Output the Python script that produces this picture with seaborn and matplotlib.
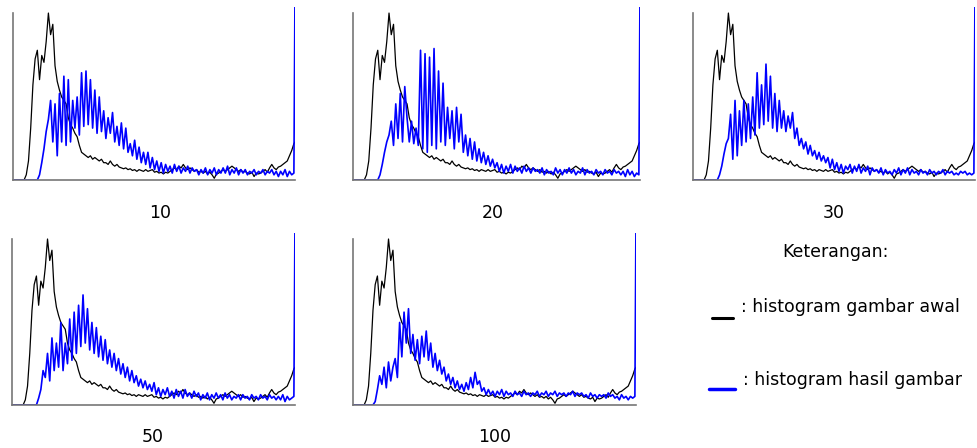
import numpy as np
import pandas as pd
import matplotlib
matplotlib.use("Agg")
import matplotlib.pyplot as plt
import seaborn as sns

sns.set_theme(style="white")
plt.rcParams['font.family'] = ['DejaVu Sans']
plt.rcParams['text.color'] = 'black'

# grey-level bins (every 2nd level, plus the last level 255)
bins = list(range(0, 256, 2)) + [255]

# histogram of the original image (same in every panel), % of panel height
awal = [0, 0, 0, 0, 0, 0, 3, 11, 30, 55, 70, 75, 58, 72, 68, 80,
        96.5, 84, 90, 66, 57, 52, 48, 46, 44, 36, 32, 30, 27, 25, 20, 16,
        15, 14, 13, 14, 12, 13, 12, 11, 12, 10, 10, 9, 11, 9, 8, 9,
        7.5, 7, 6.5, 7, 6, 6.5, 5.5, 6, 5, 6, 5.5, 5, 6, 5, 5.5, 6,
        4.5, 5, 4, 4.5, 3.5, 4.5, 4, 5, 6, 7, 6, 8, 7, 9, 7, 6,
        7, 6, 5, 6, 4.5, 5, 4, 5, 3.5, 4.5, 3, 1, 3.5, 4, 5, 6,
        5, 6, 7, 8, 7, 6, 5, 6, 4.5, 5, 4, 3.5, 4.5, 2, 4, 3.5,
        4, 5, 6, 4.5, 7, 9, 7, 6, 7.5, 8, 9, 10, 11, 14, 17, 21, 22]

# histograms of the result images
hasil_10 = [0, 0, 0, 0, 0, 0, 0, 0, 0, 0, 0, 0, 3, 10, 18, 28,
            35, 46, 22, 44, 14, 50, 22, 60, 20, 58, 22, 46, 30, 48, 26, 62,
            31, 63, 32, 58, 30, 52, 27, 48, 28, 40, 24, 36, 27, 39, 22, 31,
            20, 33, 18, 30, 16, 21, 14, 23, 12, 19, 10, 16, 9, 16, 7, 13,
            6, 11, 5, 10, 4, 9, 5, 8, 4, 9, 5, 8, 4, 7, 5, 8,
            4, 7, 5, 6, 3, 6, 4, 7, 3, 6, 4, 7, 3, 6, 4, 7,
            4, 8, 3, 6, 4, 7, 3, 6, 4, 6, 3, 5, 4, 6, 3, 5,
            4, 6, 3, 5, 4, 6, 3, 5, 2, 5, 3, 6, 2, 5, 3, 4, 110]

hasil_20 = [0, 0, 0, 0, 0, 0, 0, 0, 0, 0, 0, 0, 3, 9, 16, 22,
            26, 34, 20, 44, 24, 50, 22, 54, 36, 22, 34, 21, 30, 20, 75, 18,
            73, 16, 71, 20, 76, 18, 63, 22, 56, 20, 42, 24, 40, 18, 42, 22,
            38, 16, 26, 14, 24, 12, 22, 11, 18, 10, 16, 9, 14, 8, 12, 7,
            10, 5, 9, 4, 8, 5, 9, 4, 8, 5, 7, 4, 8, 5, 7, 4,
            7, 5, 6, 4, 7, 3, 6, 4, 5, 3, 7, 4, 6, 3, 6, 4,
            7, 4, 6, 3, 5, 4, 7, 3, 6, 4, 5, 3, 6, 4, 5, 3,
            6, 4, 5, 3, 6, 4, 5, 3, 5, 2, 6, 3, 5, 2, 4, 3, 110]

hasil_30 = [0, 0, 0, 0, 0, 0, 0, 0, 0, 0, 0, 0, 3, 8, 15, 21,
            24, 38, 12, 46, 14, 40, 20, 46, 22, 44, 24, 48, 26, 62, 30, 55,
            32, 67, 34, 60, 30, 50, 28, 46, 30, 40, 28, 37, 30, 39, 24, 30,
            20, 24, 18, 22, 15, 20, 14, 17, 12, 16, 11, 14, 10, 13, 7, 12,
            6, 10, 5, 9, 4, 8, 6, 9, 4, 8, 5, 9, 4, 7, 5, 8,
            3, 7, 5, 6, 4, 7, 3, 6, 4, 5, 3, 6, 4, 7, 3, 6,
            4, 7, 3, 6, 4, 5, 3, 6, 4, 5, 3, 6, 4, 5, 3, 5,
            4, 6, 3, 5, 4, 5, 3, 4, 3, 5, 4, 5, 3, 4, 3, 4, 110]

hasil_50 = [0, 0, 0, 0, 0, 0, 0, 0, 0, 0, 0, 0, 4, 9, 20, 16,
            30, 14, 39, 20, 36, 22, 48, 20, 36, 24, 50, 26, 54, 30, 58, 34,
            64, 36, 56, 32, 48, 30, 45, 28, 40, 26, 38, 24, 32, 22, 30, 20,
            27, 18, 24, 16, 22, 14, 20, 13, 17, 11, 15, 10, 14, 9, 12, 8,
            13, 6, 10, 5, 9, 6, 10, 5, 8, 4, 9, 5, 8, 4, 9, 5,
            7, 4, 8, 5, 7, 3, 6, 4, 7, 3, 6, 4, 7, 4, 6, 3,
            7, 4, 6, 3, 5, 4, 6, 3, 6, 4, 5, 3, 6, 4, 5, 3,
            6, 4, 5, 3, 6, 4, 5, 3, 5, 3, 6, 2, 5, 3, 4, 5, 110]

hasil_100 = [0, 0, 0, 0, 0, 0, 0, 0, 0, 0, 2, 9, 17, 12, 22, 10,
             25, 14, 22, 27, 16, 48, 28, 54, 36, 56, 30, 41, 26, 38, 24, 40,
             28, 43, 26, 36, 22, 30, 20, 26, 18, 22, 14, 18, 12, 16, 10, 14,
             9, 12, 8, 13, 9, 16, 10, 19, 12, 14, 8, 10, 6, 9, 6, 8,
             5, 8, 6, 9, 5, 8, 6, 7, 5, 8, 6, 7, 5, 8, 6, 7,
             5, 7, 6, 8, 5, 7, 6, 8, 5, 7, 6, 8, 5, 7, 6, 7,
             5, 7, 6, 8, 5, 7, 6, 7, 5, 6, 4, 7, 5, 6, 4, 6,
             5, 6, 4, 7, 5, 6, 4, 5, 3, 6, 4, 5, 3, 5, 4, 5, 110]

panel_labels = ['10', '20', '30', '50', '100']
panel_data = [hasil_10, hasil_20, hasil_30, hasil_50, hasil_100]

W, H = 977, 448
# panel boxes in pixels: left, top, right, bottom
boxes = [(13, 7, 295, 180), (353, 7, 640, 180), (693, 7, 975, 180),
         (12, 233, 295, 405), (353, 233, 636, 405)]
label_pos = [(160, 213), (493, 213), (834, 213), (153, 437), (495, 437)]

fig = plt.figure(figsize=(W / 100, H / 100), dpi=100)
fig.patch.set_facecolor('white')

for (l, t, r, b), label, hasil, (lx, ly) in zip(boxes, panel_labels, panel_data, label_pos):
    ax = fig.add_axes([l / W, 1 - b / H, (r - l) / W, (b - t) / H])
    df = pd.DataFrame({'level': bins, 'awal': awal, 'hasil': hasil})
    sns.lineplot(data=df, x='level', y='awal', color='black', lw=0.9, ax=ax)
    sns.lineplot(data=df, x='level', y='hasil', color='#0000ff', lw=1.2, ax=ax)
    ax.set_xlim(0, 255)
    ax.set_ylim(0, 100)
    ax.set_xlabel('')
    ax.set_ylabel('')
    ax.set_xticks([])
    ax.set_yticks([])
    ax.patch.set_alpha(0)
    for s in ('top', 'right'):
        ax.spines[s].set_visible(False)
    for s in ('left', 'bottom'):
        ax.spines[s].set_color('#777777')
        ax.spines[s].set_linewidth(1.2)
    ax.spines['left'].set_bounds(0, 96.5)
    fig.text(lx / W, 1 - ly / H, label, ha='center', va='center', fontsize=12.5)

# legend
fig.text(782 / W, 1 - 252 / H, 'Keterangan:', ha='left', va='center', fontsize=12.5)
fig.add_artist(plt.Line2D([712 / W, 733 / W], [1 - 318 / H] * 2, color='black', lw=2.2))
fig.text(741 / W, 1 - 307 / H, ': histogram gambar awal', ha='left', va='center', fontsize=12.5)
fig.add_artist(plt.Line2D([709 / W, 735 / W], [1 - 389 / H] * 2, color='#0000ff', lw=2.5))
fig.text(743 / W, 1 - 380 / H, ': histogram hasil gambar', ha='left', va='center', fontsize=12.5)

plt.savefig('out.png', dpi=100)
